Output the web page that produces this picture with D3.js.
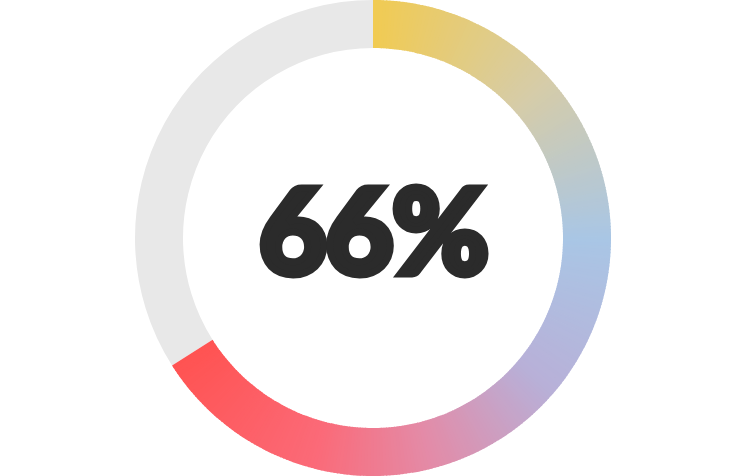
<!DOCTYPE html>
<html><head><meta charset="utf-8">
<script src="https://cdn.jsdelivr.net/npm/d3@7"></script>
<style>html,body{margin:0;padding:0;background:#fff;}svg{display:block;}</style>
</head><body>
<svg id="chart" width="750" height="476"></svg>
<script>
const percent = 66;
const label = "66%";
const stopPositions = [0, 0.2, 0.38, 0.55, 0.7, 0.82, 1];
const stopColors = ["#f1cb52", "#d6cca8", "#a9c6e5", "#b8b0d8", "#e48aa6", "#fb6a78", "#ff5352"];
const trackColor = "#e8e8e8";

const svg = d3.select("#chart");
const W = 750, H = 476;
const cx = 373, cy = 238, outerR = 238, innerR = 190;
const g = svg.append("g").attr("transform", `translate(${cx},${cy})`);

const angle = d3.scaleLinear().domain([0, 100]).range([0, 2 * Math.PI]);
const endA = angle(percent);
const color = d3.scaleLinear().domain(stopPositions).range(stopColors).interpolate(d3.interpolateRgb);
const arc = d3.arc().innerRadius(innerR).outerRadius(outerR);

g.append("path").attr("d", arc({startAngle: endA, endAngle: 2 * Math.PI})).attr("fill", trackColor);

const N = 300;
const segs = d3.range(N).map(i => ({i, s: endA * i / N, e: endA * (i + 1) / N}));
g.selectAll("path.seg").data(segs).join("path").attr("class", "seg")
  .attr("d", d => arc({startAngle: d.s, endAngle: Math.min(endA, d.e + 0.004)}))
  .attr("fill", d => color((d.i + 0.5) / N));

const t = g.append("text").text(label)
  .attr("text-anchor", "middle")
  .attr("font-family", "Lato, 'Open Sans', sans-serif")
  .attr("font-weight", 900)
  .attr("font-size", 118)
  .attr("letter-spacing", -2)
  .attr("fill", "#2b2b2b")
  .attr("stroke", "#2b2b2b")
  .attr("stroke-width", 7)
  .attr("stroke-linejoin", "miter")
  .attr("x", 0).attr("y", 36);
</script>
</body></html>
